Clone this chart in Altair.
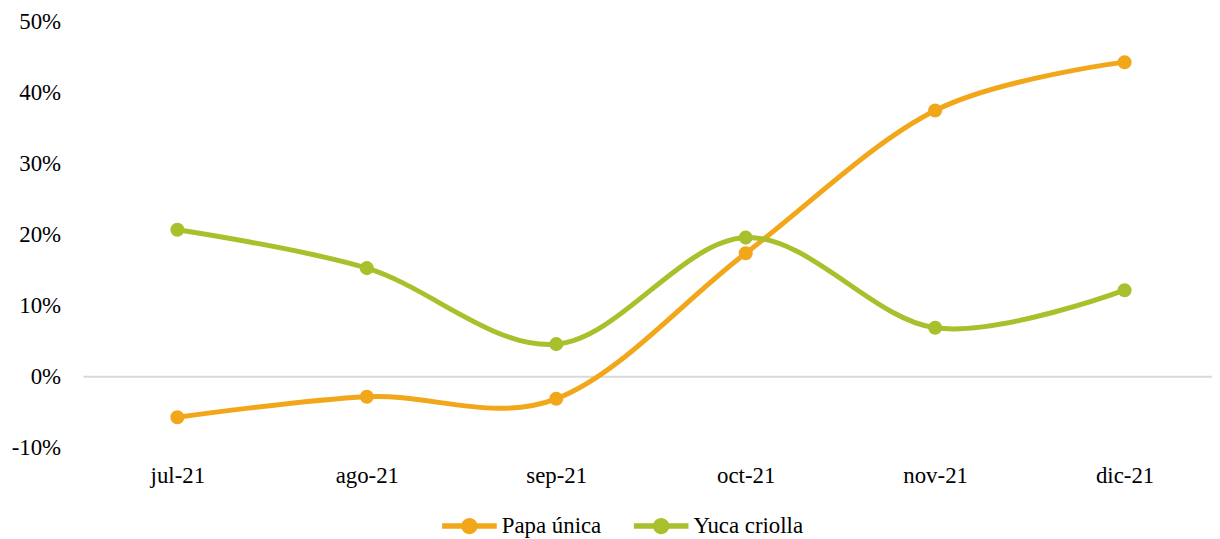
import altair as alt
import pandas as pd

months = ["jul-21", "ago-21", "sep-21", "oct-21", "nov-21", "dic-21"]
series_names = ["Papa única", "Yuca criolla"]
papa = [-0.057, -0.028, -0.031, 0.174, 0.375, 0.443]
yuca = [0.207, 0.153, 0.046, 0.196, 0.069, 0.122]
colors = ["#F2A71B", "#A9C02C"]
y_ticks = [-0.1, 0.0, 0.1, 0.2, 0.3, 0.4, 0.5]

rows = []
for m, p, y in zip(months, papa, yuca):
    rows.append({"mes": m, "serie": series_names[0], "valor": p})
    rows.append({"mes": m, "serie": series_names[1], "valor": y})
df = pd.DataFrame(rows)

FONT = "'Liberation Serif', 'Times New Roman', serif"
FS = 23

x = alt.X("mes:N", sort=months, title=None,
          scale=alt.Scale(type="point", padding=0, range=[94.5, 1048]),
          axis=alt.Axis(labelAngle=0, domain=False, ticks=False, labelPadding=17,
                        labelFontSize=FS, labelFont=FONT, labelColor="#000000"))
y = alt.Y("valor:Q", title=None,
          scale=alt.Scale(domain=[-0.1, 0.5], nice=False, zero=False),
          axis=alt.Axis(values=y_ticks, format=".0%", domain=False, ticks=False, grid=False,
                        labelExpr="replace(datum.label, '\u2212', '-')",
                        labelPadding=23, labelFontSize=FS, labelFont=FONT, labelColor="#000000"))

color_scale = alt.Scale(domain=series_names, range=colors)

sym_path = ("M-1,-0.1 L1,-0.1 L1,0.1 L-1,0.1 Z "
            "M-0.3,0 A0.3,0.3 0 1,1 0.3,0 A0.3,0.3 0 1,1 -0.3,0 Z")

legend = alt.Legend(orient="none", direction="horizontal",
                    legendX=361, legendY=480,
                    symbolType=sym_path, symbolSize=3025,
                    symbolStrokeWidth=0, symbolOpacity=1,
                    labelFontSize=FS, labelFont=FONT, labelColor="#000000",
                    labelOffset=5, columnPadding=32, title=None)

zero = alt.Chart(pd.DataFrame({"v": [0.0]})).mark_rule(color="#d9d9d9", strokeWidth=2).encode(
    y=alt.Y("v:Q", scale=alt.Scale(domain=[-0.1, 0.5], nice=False, zero=False))
)

points = alt.Chart(df).mark_point(filled=True, size=200, opacity=1).encode(
    x=x, y=y,
    color=alt.Color("serie:N", scale=color_scale, title=None, legend=legend),
)

lines = alt.Chart(df).mark_line(interpolate="cardinal", strokeWidth=5).encode(
    x=x, y=y,
    color=alt.Color("serie:N", scale=color_scale, title=None, legend=legend),
)

chart = alt.layer(zero, lines, points).properties(
    width=1136, height=429,
    autosize=alt.AutoSizeParams(type="none"),
    padding={"left": 76, "top": 12, "right": 0, "bottom": 90},
    background="white",
).configure_view(stroke=None)

chart.save("out.html", embed_options={"renderer": "svg", "actions": False})
